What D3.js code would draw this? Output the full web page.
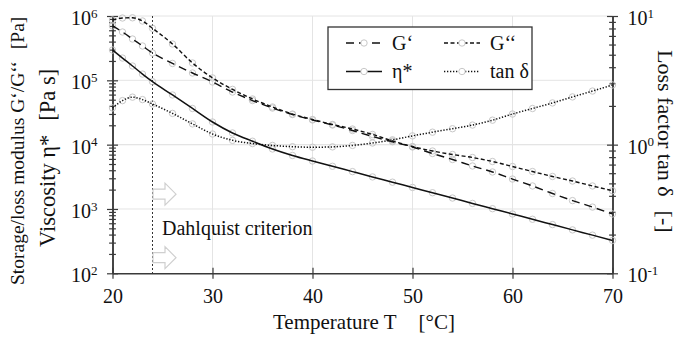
<!DOCTYPE html>
<html>
<head>
<meta charset="utf-8">
<script src="https://cdn.jsdelivr.net/npm/d3@7"></script>
<style>
  body { margin: 0; background: #fff; }
  svg { display: block; }
  svg text { font-family: 'Liberation Serif', 'DejaVu Serif', serif; fill: #111; }
</style>
</head>
<body>
<svg id="chart" width="678" height="339"></svg>
<script>
// Temperature sweep [°C]
const temperature = [20, 21, 22, 23, 24, 26, 28, 30, 32, 34, 36, 38, 40, 42, 44, 46, 48, 50, 52, 54, 56, 58, 60, 62, 64, 66, 68, 70];
// Storage modulus G' [Pa]
const storageModulus = [7.0e5, 5.64e5, 4.39e5, 3.42e5, 2.66e5, 1.83e5, 1.30e5, 9.42e4, 6.58e4, 4.85e4, 3.71e4, 2.94e4, 2.42e4, 2.02e4, 1.66e4, 1.34e4, 1.11e4, 9200, 7290, 5880, 4660, 3760, 2920, 2280, 1740, 1350, 1070, 836];
// Loss modulus G'' [Pa]
const lossModulus = [8.67e5, 9.31e5, 9.38e5, 8.36e5, 6.44e5, 3.67e5, 1.86e5, 1.09e5, 7.24e4, 5.13e4, 3.85e4, 2.99e4, 2.46e4, 2.06e4, 1.75e4, 1.44e4, 1.14e4, 9350, 7960, 7030, 6310, 5470, 4570, 3820, 3200, 2720, 2280, 1920];
// Complex viscosity η* [Pa s]
const viscosity = [2.96e5, 2.22e5, 1.67e5, 1.25e5, 9.53e4, 5.92e4, 3.65e4, 2.25e4, 1.52e4, 1.13e4, 8570, 6790, 5570, 4610, 3810, 3150, 2610, 2160, 1790, 1480, 1220, 1010, 836, 692, 572, 473, 392, 324];
// Loss factor tan δ [-]
const lossFactor = [1.93, 2.20, 2.34, 2.24, 2.07, 1.75, 1.45, 1.21, 1.08, 1.02, 0.986, 0.964, 0.955, 0.961, 0.986, 1.03, 1.09, 1.17, 1.25, 1.33, 1.42, 1.55, 1.73, 1.91, 2.11, 2.35, 2.61, 2.91];

const xTicks = [20, 30, 40, 50, 60, 70];
const leftTicks = [1e2, 1e3, 1e4, 1e5, 1e6];
const rightTicks = [1e-1, 1e0, 1e1];
const dahlquistT = 24;
const dahlquistLabel = "Dahlquist criterion";
const arrowLevels = [1700, 175];

const FONT = "'Liberation Serif', 'DejaVu Serif', serif";
const svg = d3.select("#chart").attr("font-family", FONT);
const plotLeft = 112.5, plotRight = 612.5, plotTop = 16, plotBottom = 273.3;

const x = d3.scaleLinear().domain([20, 70]).range([plotLeft, plotRight]);
const yL = d3.scaleLog().domain([1e2, 1e6]).range([plotBottom, plotTop]);
const yR = d3.scaleLog().domain([1e-1, 1e1]).range([plotBottom, plotTop]);

// grid
const grid = svg.append("g").attr("stroke", "#e4e4e4").attr("stroke-width", 1);
xTicks.slice(1, -1).forEach(t => grid.append("line")
  .attr("x1", x(t)).attr("x2", x(t)).attr("y1", plotTop).attr("y2", plotBottom));
leftTicks.slice(1).forEach(v => grid.append("line")
  .attr("x1", plotLeft).attr("x2", plotRight).attr("y1", yL(v)).attr("y2", yL(v)));
grid.append("line").attr("x1", plotLeft).attr("x2", plotRight).attr("y1", yR(1)).attr("y2", yR(1));

// minor tick values for log axes
function minorTicks(lo, hi) {
  const out = [];
  for (let e = lo; e < hi; e++) for (let m = 2; m <= 9; m++) out.push(m * Math.pow(10, e));
  return out;
}

function supLabel(sel) {
  sel.selectAll(".tick text").each(function(d) {
    const t = d3.select(this);
    const exp = Math.round(Math.log10(d));
    t.text(null);
    t.append("tspan").text("10");
    t.append("tspan").attr("dy", "-0.55em").attr("font-size", "13px").text(exp);
  });
}

function crossTicks(g, half, vertical) {
  g.selectAll(".tick line").each(function() {
    const l = d3.select(this);
    if (vertical) l.attr("y1", -half).attr("y2", half);
    else l.attr("x1", -half).attr("x2", half);
  });
}

const axisColor = "#3a3a3a";

// left axis
const gLmin = svg.append("g").attr("transform", `translate(${plotLeft},0)`)
  .call(d3.axisLeft(yL).tickValues(minorTicks(2, 6)).tickFormat("").tickSizeOuter(0));
crossTicks(gLmin, 3.4, false);
const gL = svg.append("g").attr("transform", `translate(${plotLeft},0)`)
  .call(d3.axisLeft(yL).tickValues(leftTicks).tickSizeOuter(0).tickPadding(9));
crossTicks(gL, 5.5, false);
supLabel(gL);

// right axis
const gRmin = svg.append("g").attr("transform", `translate(${plotRight},0)`)
  .call(d3.axisRight(yR).tickValues(minorTicks(-1, 1)).tickFormat("").tickSizeOuter(0));
crossTicks(gRmin, 3.4, false);
const gR = svg.append("g").attr("transform", `translate(${plotRight},0)`)
  .call(d3.axisRight(yR).tickValues(rightTicks).tickSizeOuter(0).tickPadding(9));
crossTicks(gR, 5.5, false);
supLabel(gR);

// bottom axis
const gB = svg.append("g").attr("transform", `translate(0,${plotBottom})`)
  .call(d3.axisBottom(x).tickValues(xTicks).tickFormat(d3.format("d")).tickSizeOuter(0).tickPadding(10));
crossTicks(gB, 5.5, true);

[gLmin, gL, gRmin, gR, gB].forEach(g => {
  g.attr("font-family", FONT);
  g.select(".domain").attr("stroke", axisColor).attr("stroke-width", 1.5);
  g.selectAll(".tick line").attr("stroke", axisColor).attr("stroke-width", 1.2);
  g.selectAll(".tick text").attr("font-size", "20px").attr("fill", "#111");
});
gL.selectAll(".tick text").attr("dy", "0.42em");
gR.selectAll(".tick text").attr("dy", "0.42em");

// Dahlquist criterion
svg.append("line")
  .attr("x1", x(dahlquistT)).attr("x2", x(dahlquistT))
  .attr("y1", plotTop).attr("y2", plotBottom)
  .attr("stroke", "#333").attr("stroke-width", 1).attr("stroke-dasharray", "2,2");
arrowLevels.forEach(v => {
  const x0 = x(dahlquistT) + 0.5, cy = yL(v);
  const pts = [[x0, cy - 5], [x0 + 12, cy - 5], [x0 + 12, cy - 11], [x0 + 23, cy], [x0 + 12, cy + 11], [x0 + 12, cy + 5], [x0, cy + 5]];
  svg.append("path").attr("d", d3.line()(pts) + "Z")
    .attr("fill", "none").attr("stroke", "#cfcfcf").attr("stroke-width", 1.2);
});
svg.append("text").attr("x", x(dahlquistT) + 9.5).attr("y", 235)
  .attr("font-size", "20px").text(dahlquistLabel);

// series
const series = [
  { name: "G‘", values: storageModulus, scale: yL, dash: "8,5", width: 1.4 },
  { name: "G‘‘", values: lossModulus, scale: yL, dash: "4,2.5", width: 1.4 },
  { name: "η*", values: viscosity, scale: yL, dash: null, width: 1.5 },
  { name: "tan δ", values: lossFactor, scale: yR, dash: "1.3,1.7", width: 1.5 }
];

const markerColor = "#c8c8c8";
series.forEach(s => {
  const pts = temperature.map((t, i) => [t, s.values[i]]);
  svg.append("g").selectAll("circle").data(pts).join("circle")
    .attr("cx", d => x(d[0])).attr("cy", d => s.scale(d[1])).attr("r", 3.2)
    .attr("fill", "none").attr("stroke", markerColor).attr("stroke-width", 1);
});
series.forEach(s => {
  const pts = temperature.map((t, i) => [t, s.values[i]]);
  const line = d3.line().x(d => x(d[0])).y(d => s.scale(d[1])).curve(d3.curveMonotoneX);
  svg.append("path").datum(pts).attr("d", line)
    .attr("fill", "none").attr("stroke", "#111").attr("stroke-width", s.width)
    .attr("stroke-dasharray", s.dash);
});

// legend
const lg = svg.append("g");
lg.append("rect").attr("x", 328).attr("y", 27).attr("width", 204).attr("height", 62.5)
  .attr("fill", "#fff").attr("stroke", "#333").attr("stroke-width", 1.3);
const legendPos = [[346, 43], [444, 43], [346, 71.5], [444, 71.5]];
series.forEach((s, i) => {
  const [lx, ly] = legendPos[i];
  lg.append("line").attr("x1", lx).attr("x2", lx + 36).attr("y1", ly).attr("y2", ly)
    .attr("stroke", "#111").attr("stroke-width", s.width).attr("stroke-dasharray", s.dash);
  lg.append("circle").attr("cx", lx + 18).attr("cy", ly).attr("r", 3.2)
    .attr("fill", "#fff").attr("stroke", markerColor);
  lg.append("text").attr("x", lx + 46).attr("y", ly + 6.5).attr("font-size", "20px").text(s.name);
});

// axis titles
const t1 = svg.append("text").attr("transform", "translate(24,285) rotate(-90)").attr("font-size", "19.5px");
t1.append("tspan").text("Storage/loss modulus G‘/G‘‘");
t1.append("tspan").attr("dx", 12).text("[Pa]");

const t2 = svg.append("text").attr("transform", "translate(55,247) rotate(-90)").attr("font-size", "22.5px");
t2.append("tspan").text("Viscosity η*");
t2.append("tspan").attr("dx", 14).text("[Pa s]");

const t3 = svg.append("text").attr("transform", "translate(658,50) rotate(90)").attr("font-size", "22px");
t3.append("tspan").text("Loss factor tan δ");
t3.append("tspan").attr("dx", 14).text("[-]");

const t4 = svg.append("text").attr("x", 273).attr("y", 329).attr("font-size", "21px");
t4.append("tspan").text("Temperature T");
t4.append("tspan").attr("dx", 22).text("[°C]");
</script>
</body>
</html>
